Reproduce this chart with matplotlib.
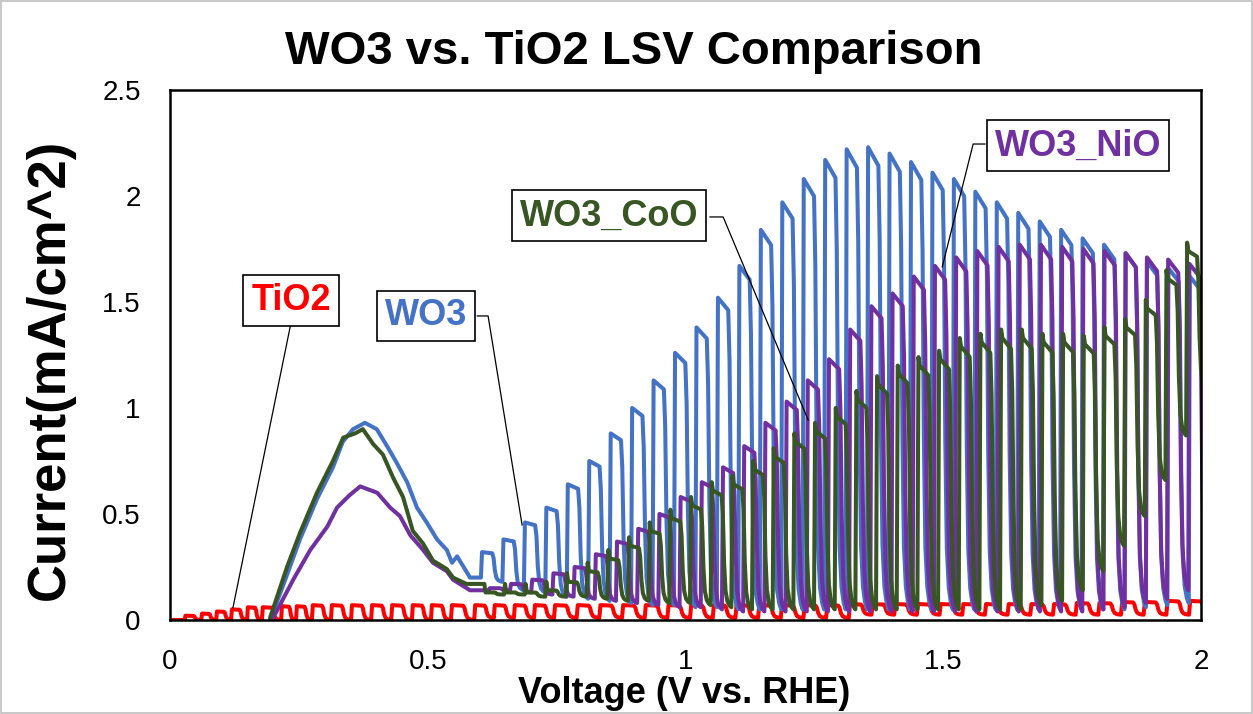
import matplotlib
matplotlib.use("Agg")
import matplotlib.pyplot as plt
import numpy as np
from matplotlib.patches import Rectangle

plt.rcParams["font.family"] = ["Liberation Sans", "DejaVu Sans"]

# ---- data (V vs. RHE, mA/cm^2) ----
# smooth part of each WO3 scan, before the light chopping takes over
wo3_hump_v = [0.194, 0.219, 0.252, 0.285, 0.316, 0.335, 0.355, 0.378, 0.401, 0.421,
              0.440, 0.460, 0.479, 0.498, 0.518, 0.537, 0.547, 0.557, 0.582]
wo3_hump_i = [0.00, 0.16, 0.38, 0.57, 0.72, 0.84, 0.90, 0.93, 0.90, 0.82,
              0.74, 0.65, 0.53, 0.46, 0.38, 0.33, 0.27, 0.30, 0.20]
coo_hump_v = [0.194, 0.227, 0.252, 0.285, 0.316, 0.336, 0.359, 0.374, 0.394, 0.413,
              0.433, 0.452, 0.471, 0.491, 0.510, 0.537, 0.549, 0.575]
coo_hump_i = [0.01, 0.25, 0.41, 0.60, 0.75, 0.86, 0.88, 0.90, 0.83, 0.78,
              0.67, 0.58, 0.42, 0.36, 0.28, 0.24, 0.20, 0.17]
nio_hump_v = [0.200, 0.239, 0.272, 0.305, 0.324, 0.349, 0.369, 0.402, 0.427, 0.446,
              0.466, 0.491, 0.510, 0.537, 0.549, 0.582]
nio_hump_i = [0.01, 0.19, 0.33, 0.44, 0.53, 0.59, 0.63, 0.60, 0.53, 0.49,
              0.40, 0.33, 0.27, 0.23, 0.19, 0.14]

# chopped part: first light-on edge, chop period, light-on peak and dark level per cycle
wo3_start, wo3_period = 0.6052, 0.04161
wo3_light = [0.32, 0.38, 0.46, 0.53, 0.64, 0.75, 0.88, 1.00, 1.13, 1.26, 1.38, 1.52,
             1.67, 1.84, 1.97, 2.08, 2.17, 2.22, 2.23, 2.20, 2.16, 2.11, 2.08, 2.02,
             1.97, 1.92, 1.88, 1.84, 1.80, 1.77, 1.73, 1.69, 1.66, 1.62]
wo3_dark = [0.18, 0.14, 0.13, 0.11, 0.10, 0.09, 0.08, 0.07, 0.07, 0.06, 0.06, 0.05,
            0.05, 0.05, 0.05, 0.05, 0.05, 0.05, 0.05, 0.05, 0.05, 0.05, 0.05, 0.05,
            0.05, 0.05, 0.05, 0.05, 0.05, 0.05, 0.06, 0.07, 0.08, 0.09]

nio_start, nio_period = 0.6204, 0.04112
nio_light = [0.15, 0.17, 0.19, 0.22, 0.25, 0.31, 0.37, 0.43, 0.50, 0.58, 0.65, 0.72,
             0.82, 0.93, 1.03, 1.13, 1.23, 1.37, 1.48, 1.54, 1.62, 1.67, 1.71, 1.74,
             1.76, 1.77, 1.77, 1.76, 1.75, 1.74, 1.73, 1.71, 1.70, 1.68]
nio_dark = [0.14, 0.13, 0.12, 0.11, 0.10, 0.09, 0.08, 0.07, 0.06, 0.06, 0.05, 0.04,
            0.04, 0.04, 0.04, 0.04, 0.04, 0.04, 0.04, 0.04, 0.04, 0.04, 0.04, 0.04,
            0.04, 0.04, 0.04, 0.04, 0.05, 0.06, 0.08, 0.10, 0.14, 0.18]

coo_start, coo_period = 0.6097, 0.0401
coo_light = [0.17, 0.17, 0.17, 0.18, 0.22, 0.27, 0.33, 0.39, 0.46, 0.52, 0.58, 0.65,
             0.68, 0.75, 0.81, 0.88, 0.93, 1.00, 1.08, 1.15, 1.20, 1.24, 1.27, 1.33,
             1.35, 1.37, 1.37, 1.35, 1.35, 1.34, 1.38, 1.42, 1.51, 1.65, 1.78, 1.81]
coo_dark = [0.12, 0.12, 0.11, 0.11, 0.11, 0.10, 0.09, 0.09, 0.08, 0.08, 0.07, 0.06,
            0.05, 0.05, 0.05, 0.05, 0.05, 0.05, 0.05, 0.05, 0.05, 0.05, 0.05, 0.05,
            0.05, 0.05, 0.07, 0.09, 0.14, 0.23, 0.35, 0.49, 0.66, 0.87, 1.09]

tio2_peak_v = [0.030, 0.062, 0.091, 0.120, 0.151, 0.180, 0.217, 0.246, 0.277, 0.314,
               0.353, 0.392, 0.431, 0.471, 0.508, 0.547, 0.592, 0.630, 0.669, 0.708,
               0.747, 0.791, 0.835, 0.879, 0.923, 0.967, 1.011, 1.055, 1.099, 1.143,
               1.187, 1.231, 1.275, 1.319, 1.363, 1.407, 1.451, 1.495, 1.539, 1.583,
               1.627, 1.671, 1.715, 1.759, 1.803, 1.847, 1.891, 1.935, 1.979]
tio2_light = [0.020, 0.030, 0.040, 0.050, 0.060, 0.060, 0.065, 0.065, 0.070, 0.070,
              0.070, 0.070, 0.070, 0.070, 0.070, 0.070, 0.070, 0.070, 0.070, 0.070,
              0.070, 0.070, 0.070, 0.070, 0.070, 0.070, 0.070, 0.070, 0.070, 0.070,
              0.070, 0.070, 0.070, 0.075, 0.075, 0.075, 0.075, 0.075, 0.075, 0.075,
              0.075, 0.075, 0.075, 0.080, 0.080, 0.085, 0.085, 0.090, 0.090]
tio2_dark = [0.000, 0.000, 0.000, 0.000, 0.000, 0.000, 0.000, 0.000, 0.000, 0.000,
             0.000, 0.000, 0.000, 0.000, 0.000, 0.000, 0.010, 0.010, 0.010, 0.010,
             0.010, 0.010, 0.010, 0.010, 0.010, 0.010, 0.010, 0.010, 0.010, 0.010,
             0.010, 0.010, 0.010, 0.025, 0.025, 0.025, 0.025, 0.025, 0.025, 0.025,
             0.025, 0.025, 0.025, 0.025, 0.025, 0.025, 0.025, 0.025, 0.025]

labels = ["TiO2", "WO3", "WO3_CoO", "WO3_NiO"]
colors = ["#FF0000", "#4472C4", "#375623", "#7030A0"]


def chopped(v0, i0, centers, light, dark, notch=0.0):
    """Light-chopped LSV trace: square-ish pulses built from per-cycle values."""
    v = list(v0)
    cur = list(i0)
    prev = i0[-1]
    centers = np.asarray(centers, dtype=float)
    for n, peak in enumerate(light):
        p = centers[n]
        per = centers[n + 1] - p if n + 1 < len(centers) else p - centers[n - 1]
        v += [p - 0.05 * per, p]
        cur += [prev, peak]
        top = peak
        if notch:
            top = peak - notch
            v.append(p + 0.06 * per)
            cur.append(top)
        if n >= len(dark):
            v.append(p + 0.45 * per)
            cur.append(top)
            break
        d = dark[n]
        h = top - d
        # flat-ish top, steep drop that eases into a short dark floor
        v += [p + 0.48 * per, p + 0.54 * per, p + 0.60 * per, p + 0.67 * per,
              p + 0.76 * per, p + 0.86 * per, p + 0.95 * per]
        cur += [top - 0.04 * h, top - 0.2 * h, d + 0.38 * h, d + 0.14 * h,
                d + 0.05 * h, d + 0.015 * h, d]
        prev = d
    return np.array(v), np.array(cur)


fig = plt.figure(figsize=(12.53, 7.14), dpi=100)
ax = fig.add_axes([0.1357, 0.1317, 0.8228, 0.7423])

traces = [
    chopped([0.0], [0.0], tio2_peak_v, tio2_light, tio2_dark),
    chopped(wo3_hump_v, wo3_hump_i,
            wo3_start + wo3_period * np.arange(len(wo3_light)), wo3_light, wo3_dark),
    chopped(nio_hump_v, nio_hump_i,
            nio_start + nio_period * np.arange(len(nio_light)), nio_light, nio_dark),
    chopped(coo_hump_v, coo_hump_i,
            coo_start + coo_period * np.arange(len(coo_light)), coo_light, coo_dark,
            notch=0.04),
]
order = [0, 1, 3, 2]  # red, blue, purple, green on top
for k, (vv, ii) in zip(order, traces):
    ax.plot(vv, ii, color=colors[k], lw=2.9, solid_joinstyle="round",
            solid_capstyle="round")

ax.set_xlim(0, 2)
ax.set_ylim(0, 2.5)
ax.set_xticks([0, 0.5, 1, 1.5, 2])
ax.set_xticklabels(["0", "0.5", "1", "1.5", "2"])
ax.set_yticks([0, 0.5, 1, 1.5, 2, 2.5])
ax.set_yticklabels(["0", "0.5", "1", "1.5", "2", "2.5"])
ax.tick_params(length=0, labelsize=20, pad=21, colors="black")
for side in ["left", "bottom", "top", "right"]:
    ax.spines[side].set_linewidth(1.8)
    ax.spines[side].set_color("black")

# callout labels with leader lines
callouts = [
    (0, (0.235, 1.505), [(0.235, 1.406), (0.122, 0.057)]),
    (1, (0.497, 1.434), [(0.596, 1.434), (0.617, 1.434), (0.683, 0.448)]),
    (2, (0.852, 1.906), [(1.0475, 1.901), (1.073, 1.901), (1.238, 0.943)]),
    (3, (1.761, 2.236), [(1.581, 2.245), (1.558, 2.245), (1.498, 1.665)]),
]
for k, (tx, ty), path in callouts:
    px, py = zip(*path)
    ax.plot(px, py, color="black", lw=0.9, zorder=5)
    ax.text(tx, ty, labels[k], color=colors[k], fontsize=26, fontweight="bold",
            ha="center", va="center", zorder=6,
            bbox=dict(boxstyle="square,pad=0.22", fc="white", ec="black", lw=1.2))

fig.text(0.506, 0.927, "WO3 vs. TiO2 LSV Comparison", fontsize=34,
         fontweight="bold", ha="center", va="center")
fig.text(0.040, 0.482, "Current(mA/cm^2)", fontsize=38, fontweight="bold",
         rotation=90, ha="center", va="center")
fig.text(0.546, 0.029, "Voltage (V vs. RHE)", fontsize=26, fontweight="bold",
         ha="center", va="center")

fig.patches.append(Rectangle((0.001, 0.001), 0.998, 0.997, transform=fig.transFigure,
                             fill=False, edgecolor="#BFBFBF", lw=1.2))

fig.savefig("out.png", dpi=100)
